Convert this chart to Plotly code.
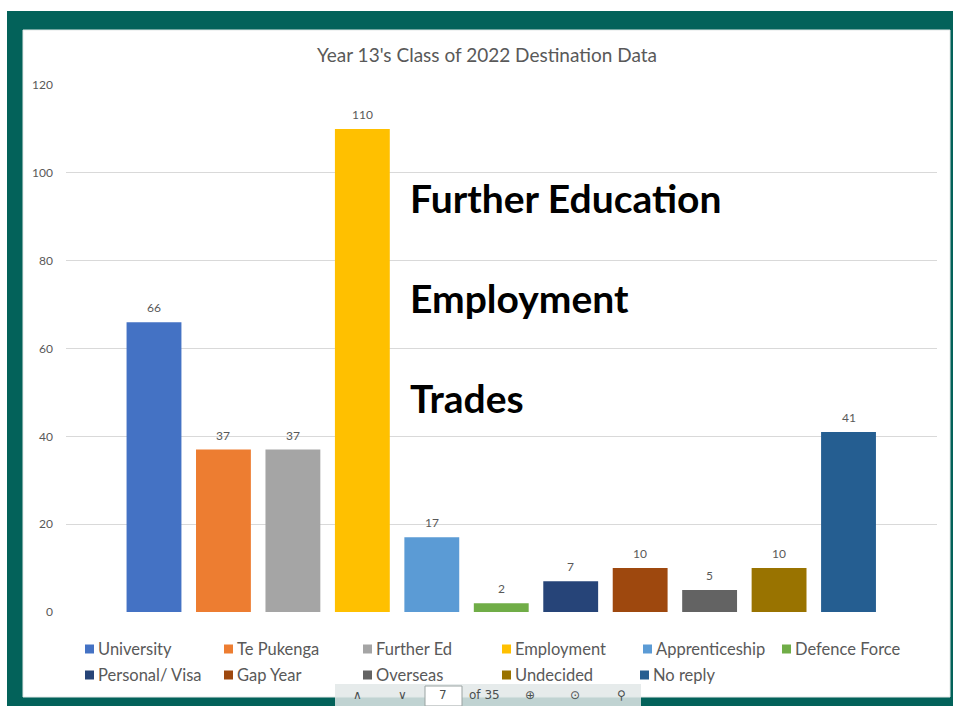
import plotly.graph_objects as go

# Destination categories, counts and Office-style colours
categories = ["University", "Te Pukenga", "Further Ed", "Employment", "Apprenticeship",
              "Defence Force", "Personal/ Visa", "Gap Year", "Overseas", "Undecided", "No reply"]
counts = [66, 37, 37, 110, 17, 2, 7, 10, 5, 10, 41]
colors = ["#4472C4", "#ED7D31", "#A5A5A5", "#FFC000", "#5B9BD5", "#70AD47",
          "#264478", "#9E480E", "#636363", "#997300", "#255E91"]
y_ticks = [0, 20, 40, 60, 80, 100, 120]
pathways = ["Further Education", "Employment", "Trades"]

W, H = 955, 706
L, R, T, B = 66, 937, 85, 612          # plot-area edges in pixels
PW, PH = R - L, B - T

# legend key placement (left edge of each swatch, row centre), in pixels
legend_slots = [(85, 649), (224, 649), (363, 649), (502, 649), (643, 649), (782, 649),
                (85, 675), (224, 675), (363, 675), (502, 675), (640, 675)]


def px(x):
    return (x - L) / PW


def py(y):
    return (B - y) / PH


FONT = "Lato, 'Open Sans', sans-serif"
GREY = "#595959"
TEAL = "#03625A"

fig = go.Figure()
annotations = []
shapes = [
    # teal slide frame
    dict(type="rect", xref="paper", yref="paper", x0=px(7), x1=px(953), y0=py(706), y1=py(11),
         fillcolor=TEAL, line=dict(width=0), layer="below"),
    # white chart card
    dict(type="rect", xref="paper", yref="paper", x0=px(23), x1=px(950), y0=py(697), y1=py(30),
         fillcolor="white", line=dict(color="#E3E8E7", width=1), layer="below"),
]

for cat, val, col, (lx, ly) in zip(categories, counts, colors, legend_slots):
    fig.add_trace(go.Bar(x=[cat], y=[val], name=cat, marker=dict(color=col, line=dict(width=0)),
                         width=0.79, showlegend=False))
    # value label above each bar
    annotations.append(dict(x=cat, y=val, xref="x", yref="y", text=str(val), showarrow=False,
                            yanchor="bottom", yshift=5,
                            font=dict(family=FONT, size=12, color=GREY)))
    # legend key: swatch + name
    shapes.append(dict(type="rect", xref="paper", yref="paper", x0=px(lx), x1=px(lx + 9),
                       y0=py(ly + 4.5), y1=py(ly - 4.5), fillcolor=col, line=dict(width=0)))
    annotations.append(dict(xref="paper", yref="paper", x=px(lx + 11), y=py(ly), xanchor="left",
                            yanchor="middle", text=cat, showarrow=False,
                            font=dict(family=FONT, size=16.5, color=GREY)))

for i, label in enumerate(pathways):
    annotations.append(dict(xref="paper", yref="paper", x=px(408), y=py(198 + 100 * i),
                            xanchor="left", yanchor="middle", text=f"<b>{label}</b>",
                            showarrow=False, font=dict(family=FONT, size=39, color="#000000")))

# viewer toolbar along the bottom edge
shapes += [
    dict(type="rect", xref="paper", yref="paper", x0=px(335), x1=px(641), y0=py(706), y1=py(684),
         fillcolor="rgba(226,232,231,0.85)", line=dict(width=0), layer="above"),
    dict(type="rect", xref="paper", yref="paper", x0=px(425), x1=px(462), y0=py(706), y1=py(686),
         fillcolor="white", line=dict(color="#9AA3A2", width=1), layer="above"),
]
toolbar = [("∧", 357), ("∨", 402), ("7", 443), ("of 35", 484), ("⊕", 530), ("⊙", 575), ("⚲", 621)]
for txt, x in toolbar:
    annotations.append(dict(xref="paper", yref="paper", x=px(x), y=py(695), xanchor="center",
                            yanchor="middle", text=txt, showarrow=False,
                            font=dict(family="DejaVu Sans, sans-serif", size=12, color="#4A4F4F")))

fig.update_layout(
    width=W, height=H,
    margin=dict(l=L, r=W - R, t=T, b=H - B, autoexpand=False),
    paper_bgcolor="white", plot_bgcolor="rgba(0,0,0,0)",
    barmode="overlay",
    title=dict(text="Year 13's Class of 2022 Destination Data", x=487 / W, xanchor="center",
               y=1 - 55 / H, yanchor="middle", font=dict(family=FONT, size=19, color=GREY)),
    xaxis=dict(type="category", categoryorder="array", categoryarray=categories,
               range=[-1.267, 11.274], showticklabels=False, showgrid=False, zeroline=False,
               showline=False, ticks=""),
    yaxis=dict(range=[0, 120], tickvals=y_ticks, showgrid=True, gridcolor="#D9D9D9", gridwidth=1,
               zeroline=False, showline=False, ticks="", ticklabelstandoff=12,
               tickfont=dict(family=FONT, size=12, color=GREY)),
    shapes=shapes,
    annotations=annotations,
    showlegend=False,
)

fig.write_html("out.html")
